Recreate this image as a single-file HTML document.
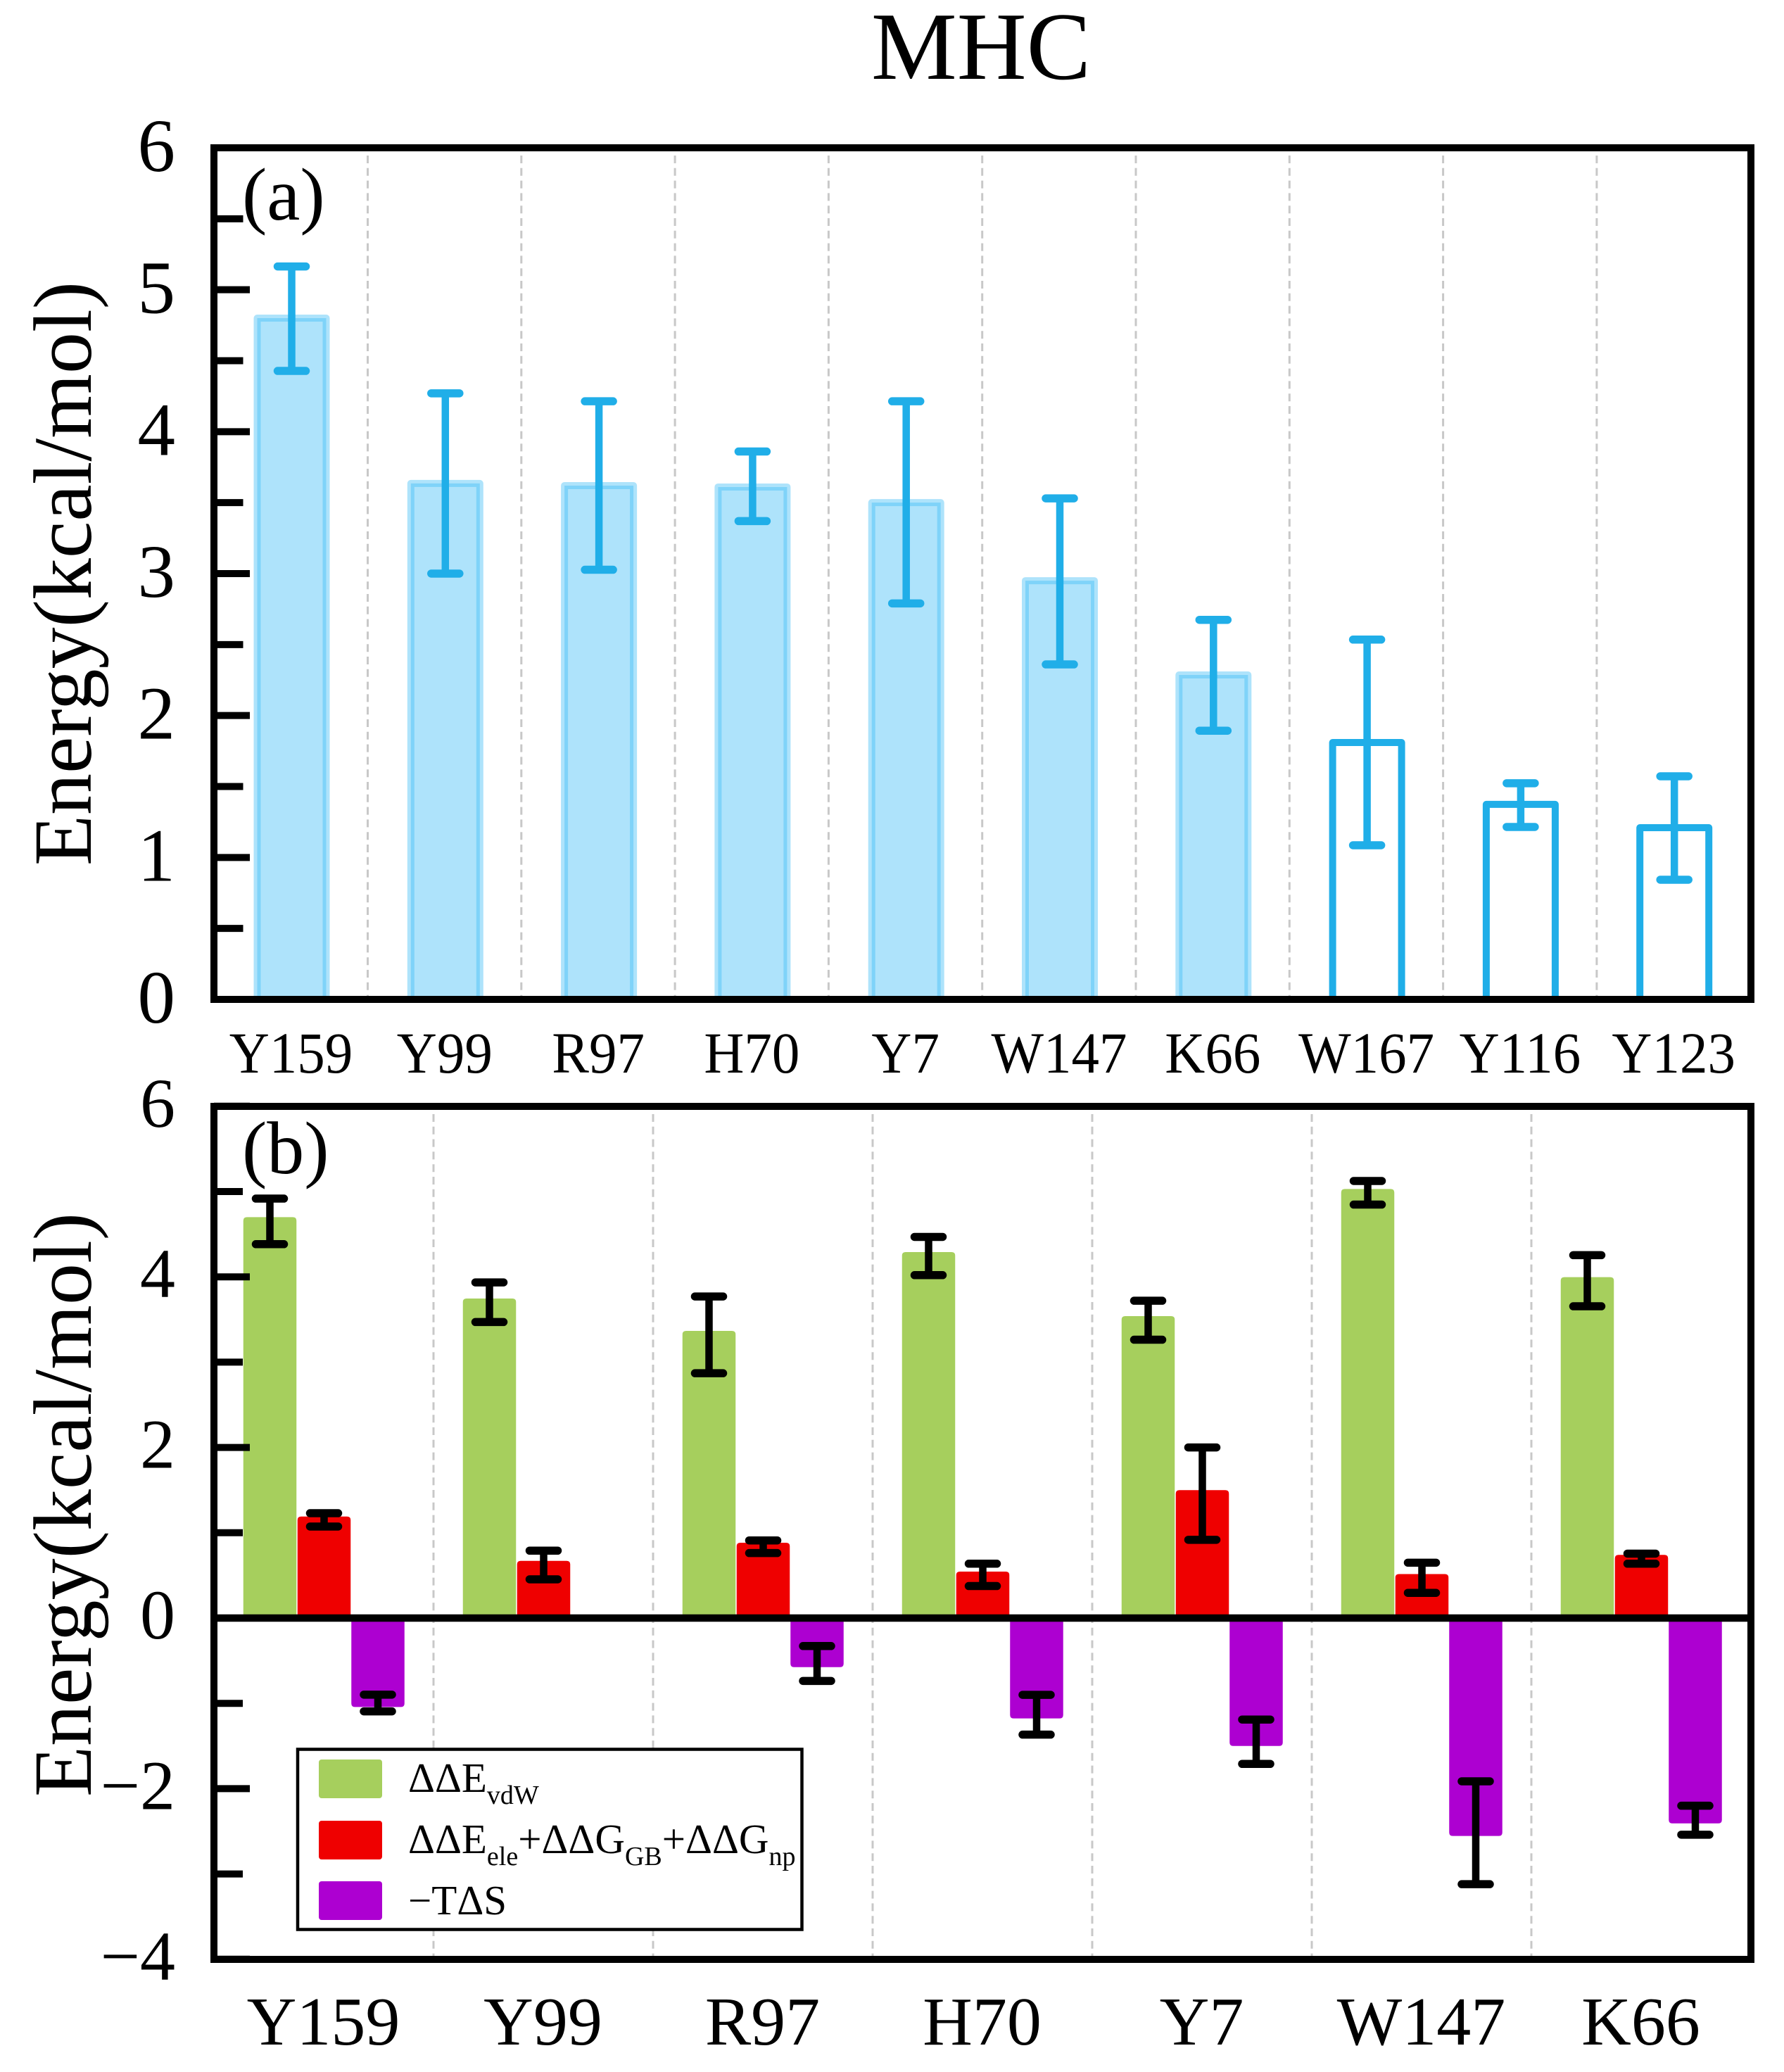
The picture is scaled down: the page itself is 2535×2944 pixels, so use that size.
<!DOCTYPE html>
<html lang="en">
<head>
<meta charset="utf-8">
<title>MHC energy decomposition</title>
<style>
html,body{margin:0;padding:0;background:#fff;}
svg{display:block;}
text{font-family:"Liberation Serif","DejaVu Serif",serif;fill:#000;}
</style>
</head>
<body>
<svg id="chart" xmlns="http://www.w3.org/2000/svg" width="2535" height="2944" viewBox="0 0 2535 2944">
  <rect x="0" y="0" width="2535" height="2944" fill="#fff"/>
  <text x="1394" y="112" font-size="137" text-anchor="middle">MHC</text>
  <g id="panelA"></g>
  <g id="panelB"></g>
  <rect x="304" y="210" width="2184" height="1210" fill="none" stroke="#000" stroke-width="10"/>
  <rect x="304" y="1572" width="2184" height="1212" fill="none" stroke="#000" stroke-width="10"/>
  <text x="344" y="312" font-size="106">(a)</text>
  <text x="344" y="1667" font-size="106">(b)</text>
  <text transform="translate(129,815) rotate(-90)" font-size="118" text-anchor="middle">Energy(kcal/mol)</text>
  <text transform="translate(129,2138) rotate(-90)" font-size="118" text-anchor="middle">Energy(kcal/mol)</text>
  <g>
    <rect x="423" y="2485.5" width="716.5" height="256" fill="#fff" stroke="#000" stroke-width="4.5"/>
    <rect x="453" y="2500" width="90" height="55" rx="4" fill="#a6cf5d"/>
    <rect x="453" y="2587" width="90" height="55" rx="4" fill="#ef0000"/>
    <rect x="453" y="2673" width="90" height="55" rx="4" fill="#ad00d1"/>
    <text x="580" y="2546" font-size="59">ΔΔE<tspan font-size="38" dy="17">vdW</tspan></text>
    <text x="580" y="2633" font-size="59">ΔΔE<tspan font-size="38" dy="17">ele</tspan><tspan dy="-17">+ΔΔG</tspan><tspan font-size="38" dy="17">GB</tspan><tspan dy="-17">+ΔΔG</tspan><tspan font-size="38" dy="17">np</tspan></text>
    <text x="580" y="2720" font-size="59">−TΔS</text>
  </g>
</svg>
<script>
// Panel (a) data
const catsA = ["Y159","Y99","R97","H70","Y7","W147","K66","W167","Y116","Y123"];
const valsA = [4.80,3.635,3.62,3.61,3.50,2.95,2.286,1.81,1.374,1.21];
const errHiA = [5.164,4.27,4.214,3.86,4.214,3.53,2.674,2.535,1.523,1.572];
const errLoA = [4.428,3.0,3.027,3.37,2.79,2.36,1.893,1.086,1.215,0.843];
const filledA = [true,true,true,true,true,true,true,false,false,false];
const majorTicksA = [0,1,2,3,4,5,6];
const minorTicksA = [0.5,1.5,2.5,3.5,4.5,5.5];

// Panel (b) data
const catsB = ["Y159","Y99","R97","H70","Y7","W147","K66"];
const vdw = [4.70,3.746,3.366,4.29,3.54,5.03,3.997];
const vdwHi = [4.917,3.935,3.77,4.468,3.72,5.124,4.254];
const vdwLo = [4.383,3.47,2.87,4.02,3.263,4.847,3.655];
const ele = [1.19,0.67,0.883,0.545,1.50,0.516,0.74];
const eleHi = [1.229,0.79,0.91,0.637,2.0,0.649,0.755];
const eleLo = [1.073,0.454,0.762,0.375,0.917,0.295,0.637];
const entropy = [-1.043,null,-0.575,-1.177,-1.50,-2.555,-2.407];
const entropyHi = [-0.898,null,-0.328,-0.90,-1.19,-1.914,-2.20];
const entropyLo = [-1.094,null,-0.737,-1.367,-1.71,-3.12,-2.54];
const majorTicksB = [-4,-2,0,2,4,6];
const minorTicksB = [-3,-1,1,3,5];

const NS = "http://www.w3.org/2000/svg";
const BLUE = "#20aee8";
const panelA = document.getElementById("panelA");
const panelB = document.getElementById("panelB");

// axis functions
function yA(v){ return 1420 - v * 201.67; }
function yB(v){ return 2299 - v * 121.2; }
function xA(i){ return 414.5 + 218.3 * i; }
function gridA(i){ return 522.5 + 218.3 * i; }
function xB(i){ return 460.5 + 312 * i; }
function gridB(i){ return 616 + 312 * i; }

function make(tag, parent, attrs){
  const el = document.createElementNS(NS, tag);
  for (const k in attrs) el.setAttribute(k, attrs[k]);
  parent.appendChild(el);
  return el;
}
function line(parent, x1, y1, x2, y2, color, width, cap){
  return make("line", parent, {x1:x1, y1:y1, x2:x2, y2:y2, stroke:color, "stroke-width":width, "stroke-linecap":cap || "butt"});
}
function errorBar(parent, x, top, bottom, color, name){
  const g = make("g", parent, {});
  
  
  line(g, x, top, x, bottom, color, 10.5);
  line(g, x - 20, top, x + 20, top, color, 11.5, "round");
  line(g, x - 20, bottom, x + 20, bottom, color, 11.5, "round");
  return g;
}
function roundedBar(parent, cx, w, y0, y1, color, r){
  const d = y1 < y0 ? 1 : -1;
  const l = cx - w / 2, rt = cx + w / 2;
  const path = "M" + l + " " + y0 + "L" + l + " " + (y1 + d * r) + "Q" + l + " " + y1 + " " + (l + r) + " " + y1 +
    "L" + (rt - r) + " " + y1 + "Q" + rt + " " + y1 + " " + rt + " " + (y1 + d * r) + "L" + rt + " " + y0 + "Z";
  return make("path", parent, {d:path, fill:color});
}
function dashed(parent, x, y1, y2){
  return make("line", parent, {x1:x, y1:y1, x2:x, y2:y2, stroke:"#c8c8c8", "stroke-width":3, "stroke-dasharray":"11 6.8"});
}

// ---------- Panel (a) ----------
for (let i = 0; i < catsA.length - 1; i++) {
  const g = dashed(panelA, gridA(i), 221, 1416);
  
  
}
catsA.forEach(function(cat, i){
  const cx = xA(i), half = 49, top = yA(valsA[i]), base = yA(0);
  const d = "M" + (cx - half) + " " + base + "L" + (cx - half) + " " + top + "L" + (cx + half) + " " + top + "L" + (cx + half) + " " + base;
  const bar = make("path", panelA, filledA[i]
    ? {d:d, fill:"rgba(62,188,245,.42)", stroke:"rgba(62,188,245,.42)", "stroke-width":10, "stroke-linejoin":"round"}
    : {d:d, fill:"none", stroke:BLUE, "stroke-width":10, "stroke-linejoin":"round"});
  
  
  errorBar(panelA, cx, yA(errHiA[i]), yA(errLoA[i]), BLUE, 'error-bar-' + cat.toLowerCase());
  const t = make("text", panelA, {transform:"translate(" + (cx - 1) + ",1524) scale(1,1.05)", "font-size":79, "text-anchor":"middle"});
  t.textContent = cat;
  
  
});
majorTicksA.forEach(function(v){
  const tk = line(panelA, 304, yA(v), 355, yA(v), "#000", 10);
  
  
  const t = make("text", panelA, {x:249, y:yA(v) + 33, "font-size":107, "text-anchor":"end"});
  t.textContent = String(v);
  
  
});
minorTicksA.forEach(function(v){
  const tk = line(panelA, 304, yA(v), 345.5, yA(v), "#000", 10);
  
  
});

// ---------- Panel (b) ----------
for (let i = 0; i < catsB.length - 1; i++) {
  const g = dashed(panelB, gridB(i), 1583, 2780);
  
  
}
catsB.forEach(function(cat, i){
  const c = xB(i), base = yB(0), w = 75.5, id = cat.toLowerCase();
  const b1 = roundedBar(panelB, c - 77, w, base, yB(vdw[i]), "#a6cf5d", 5);
  
  
  const b2 = roundedBar(panelB, c, w, base, yB(ele[i]), "#ef0000", 5);
  
  
  if (entropy[i] !== null) {
    const b3 = roundedBar(panelB, c + 76.5, w, base, yB(entropy[i]), "#ad00d1", 5);
    
    
  }
  errorBar(panelB, c - 77, yB(vdwHi[i]), yB(vdwLo[i]), "#000", 'error-bar-vdw-' + id);
  errorBar(panelB, c, yB(eleHi[i]), yB(eleLo[i]), "#000", 'error-bar-ele-' + id);
  if (entropy[i] !== null) {
    errorBar(panelB, c + 76.5, yB(entropyHi[i]), yB(entropyLo[i]), "#000", 'error-bar-entropy-' + id);
  }
  const t = make("text", panelB, {x:c - 1, y:2905, "font-size":98, "text-anchor":"middle"});
  t.textContent = cat;
  
  
});
const zero = line(panelB, 304, yB(0), 2488, yB(0), "#000", 10.5);


majorTicksB.forEach(function(v){
  const tk = line(panelB, 304, yB(v), 355, yB(v), "#000", 10);
  
  
  const t = make("text", panelB, {x:249, y:yB(v) + 29, "font-size":100, "text-anchor":"end"});
  t.textContent = String(v).replace("-", "\u2212");
  
  
});
minorTicksB.forEach(function(v){
  const tk = line(panelB, 304, yB(v), 345, yB(v), "#000", 10);
  
  
});
</script>
</body>
</html>
